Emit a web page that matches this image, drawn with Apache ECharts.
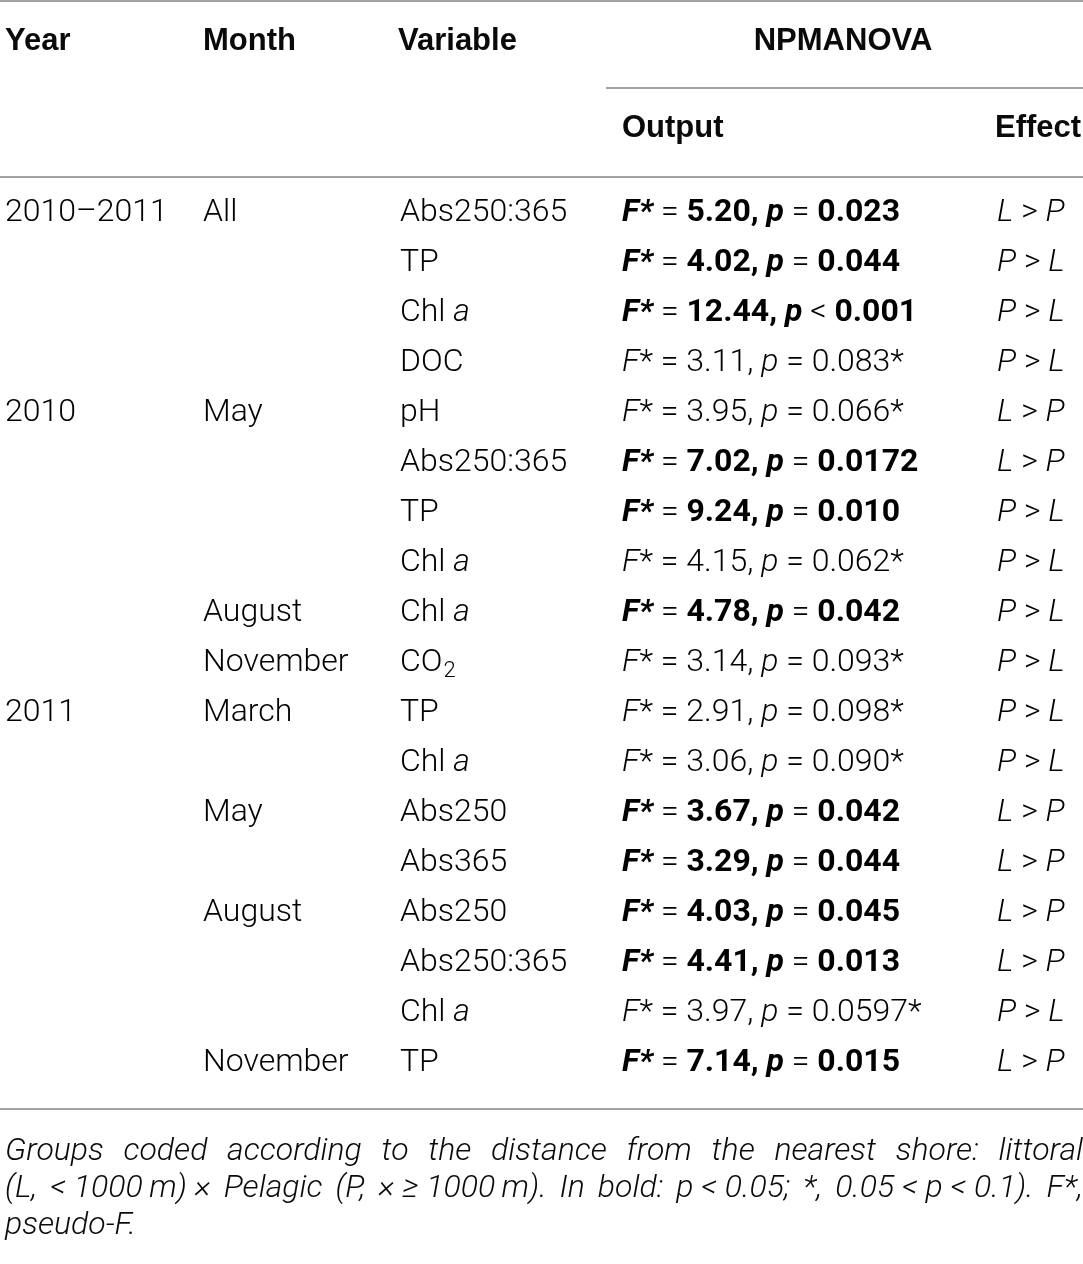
<!DOCTYPE html>
<html>
<head>
<meta charset="utf-8">
<script src="https://cdn.jsdelivr.net/npm/echarts@6/dist/echarts.min.js"></script>
<style>
  html, body { margin: 0; padding: 0; background: #fff; }
  #main { width: 1083px; height: 1264px; }
</style>
</head>
<body>
<div id="main"></div>
<script>
// table rows, top to bottom
var years = ['2010–2011', '', '', '', '2010', '', '', '', '', '', '2011', '', '', '', '', '', '', ''];
var months = ['All', '', '', '', 'May', '', '', '', 'August', 'November', 'March', '', 'May', '', 'August', '', '', 'November'];
var variables = ['Abs250:365', 'TP', 'Chl a', 'DOC', 'pH', 'Abs250:365', 'TP', 'Chl a', 'Chl a', 'CO2',
                 'TP', 'Chl a', 'Abs250', 'Abs365', 'Abs250', 'Abs250:365', 'Chl a', 'TP'];
var fValues = ['5.20', '4.02', '12.44', '3.11', '3.95', '7.02', '9.24', '4.15', '4.78', '3.14',
               '2.91', '3.06', '3.67', '3.29', '4.03', '4.41', '3.97', '7.14'];
var pOps = ['=', '=', '<', '=', '=', '=', '=', '=', '=', '=', '=', '=', '=', '=', '=', '=', '=', '='];
var pValues = ['0.023', '0.044', '0.001', '0.083', '0.066', '0.0172', '0.010', '0.062', '0.042', '0.093',
               '0.098', '0.090', '0.042', '0.044', '0.045', '0.013', '0.0597', '0.015'];
var effects = ['L>P', 'P>L', 'P>L', 'P>L', 'L>P', 'L>P', 'P>L', 'P>L', 'P>L', 'P>L',
               'P>L', 'P>L', 'L>P', 'L>P', 'L>P', 'L>P', 'P>L', 'L>P'];
var headers = ['Year', 'Month', 'Variable', 'NPMANOVA', 'Output', 'Effect'];
var footLines = [
    'Groups coded according to the distance from the nearest shore: littoral',
    '(L, <\u00a01000\u2009m)\u00a0× Pelagic (P, ×\u00a0≥\u00a01000\u2009m). In bold: p\u00a0<\u00a00.05; *, 0.05\u00a0<\u00a0p\u00a0<\u00a00.1). F*,',
    'pseudo-F.'
];

var rowIdx = years.map(function (d, i) { return i; });
var colX = [5, 203, 400, 622, 997];
var INK = '#0a0a0a';
var RULE = '#a3a3a3';
var BODY = 'Roboto, "Liberation Sans", sans-serif';
var HEAD = '"Liberation Sans", Arial, sans-serif';
var FS = 32;

var chart = echarts.init(document.getElementById('main'));

function variableText(v) {
    if (v === 'Chl a') return '{r|Chl }{i|a}';
    if (v === 'CO2') return '{r|CO}{sub|2}';
    return '{r|' + v + '}';
}

function outputText(i) {
    var sig = parseFloat(pValues[i]) < 0.05;
    var op = ' ' + pOps[i] + ' ';
    if (sig) {
        return '{bi|F*}{eq| = }{b|' + fValues[i] + ', }{bi|p}{eq|' + op + '}{b|' + pValues[i] + '}';
    }
    return '{i|F}{r|* = ' + fValues[i] + ', }{i|p}{r|' + op + pValues[i] + '*}';
}

function effectText(e) {
    var parts = e.split('>');
    return '{i|' + parts[0] + '}{r| > }{i|' + parts[1] + '}';
}

var rich = {
    r: { fontFamily: BODY, fontSize: FS, fontWeight: 300, color: INK },
    i: { fontFamily: BODY, fontSize: FS, fontWeight: 300, fontStyle: 'italic', color: INK },
    b: { fontFamily: BODY, fontSize: FS, fontWeight: 'bold', color: INK },
    bi: { fontFamily: BODY, fontSize: FS, fontWeight: 'bold', fontStyle: 'italic', color: INK },
    eq: { fontFamily: BODY, fontSize: FS, fontWeight: 300, color: INK },
    sub: { fontFamily: BODY, fontSize: 22, fontWeight: 300, color: INK, padding: [16, 0, 0, 1] }
};

function renderRow(params, api) {
    var i = api.value(1);
    var y = api.coord([0, i])[1];
    var x0 = params.coordSys.x;
    var cells = [
        '{r|' + years[i] + '}',
        '{r|' + months[i] + '}',
        variableText(variables[i]),
        outputText(i),
        effectText(effects[i])
    ];
    return {
        type: 'group',
        children: cells.map(function (t, c) {
            return {
                type: 'text',
                x: x0 + colX[c],
                y: y,
                style: { text: t, rich: rich, verticalAlign: 'middle', align: 'left' }
            };
        })
    };
}

// header and rules
var graphics = [
    { type: 'line', shape: { x1: 0, y1: 1, x2: 1083, y2: 1 }, style: { stroke: RULE, lineWidth: 2 } },
    { type: 'line', shape: { x1: 606, y1: 88, x2: 1083, y2: 88 }, style: { stroke: RULE, lineWidth: 2 } },
    { type: 'line', shape: { x1: 0, y1: 177, x2: 1083, y2: 177 }, style: { stroke: RULE, lineWidth: 2 } },
    { type: 'line', shape: { x1: 0, y1: 1109, x2: 1083, y2: 1109 }, style: { stroke: RULE, lineWidth: 2 } }
];
var headPos = [[5, 41, 'left'], [203, 41, 'left'], [398, 41, 'left'], [843, 41, 'center'], [622, 128, 'left'], [995, 128, 'left']];
headers.forEach(function (h, k) {
    graphics.push({
        type: 'text', x: headPos[k][0], y: headPos[k][1],
        style: { text: h, font: 'bold 31px ' + HEAD, fill: INK, align: headPos[k][2], verticalAlign: 'middle' }
    });
});

// justified footnote, word by word
var FOOT_FONT = 'italic 300 32px ' + BODY;
var ctx = document.createElement('canvas').getContext('2d');
ctx.font = FOOT_FONT;
var LINE_W = 1078;
footLines.forEach(function (line, li) {
    var ws = line.split(' ');
    var y = 1152 + li * 37;
    var total = ws.reduce(function (s, w) { return s + ctx.measureText(w).width; }, 0);
    var last = li === footLines.length - 1;
    var gap = (!last && ws.length > 1) ? (LINE_W - total) / (ws.length - 1) : ctx.measureText(' ').width;
    var x = 5;
    ws.forEach(function (w) {
        graphics.push({
            type: 'text', x: x, y: y,
            style: { text: w, font: FOOT_FONT, fill: INK, verticalAlign: 'middle' }
        });
        x += ctx.measureText(w).width + gap;
    });
});

var option = {
    backgroundColor: '#fff',
    animation: false,
    grid: { left: 0, right: 0, top: 188, height: 900 },
    xAxis: { type: 'value', min: 0, max: 1, show: false },
    yAxis: { type: 'category', data: rowIdx, inverse: true, show: false },
    graphic: graphics,
    series: [{
        type: 'custom',
        renderItem: renderRow,
        data: rowIdx.map(function (i) { return [0, i]; }),
        encode: { x: 0, y: 1 }
    }]
};
chart.setOption(option);
</script>
</body>
</html>
